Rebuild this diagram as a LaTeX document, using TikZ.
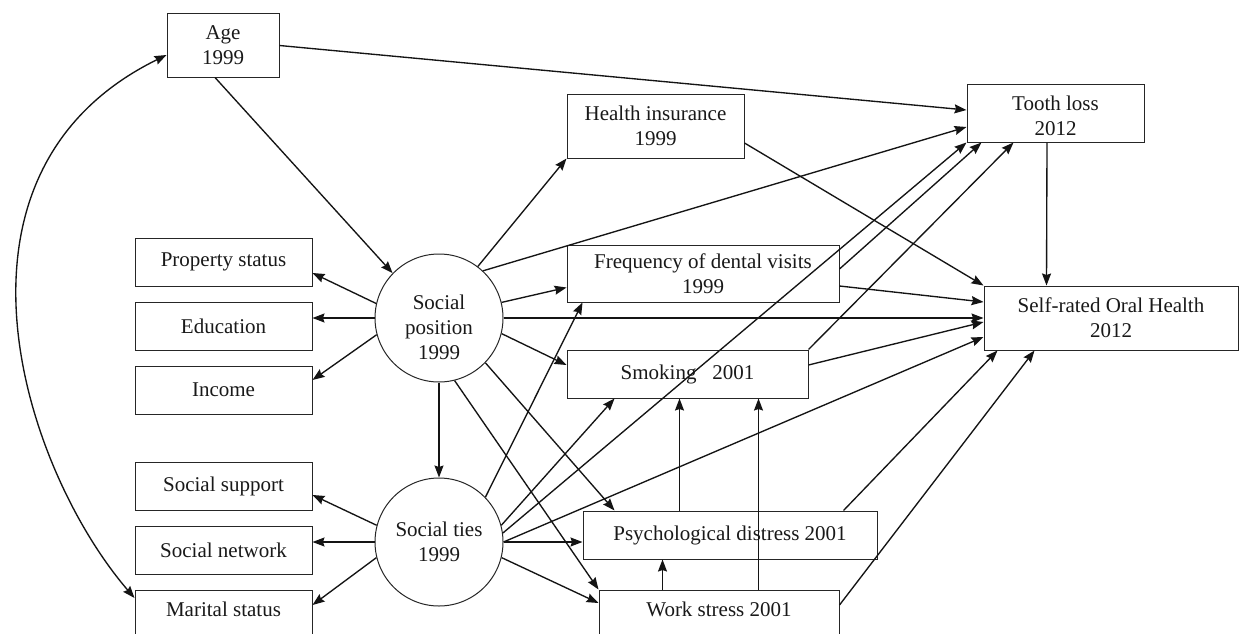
\documentclass[tikz,border=0pt]{standalone}
\usepackage{fontspec}
\setmainfont{Liberation Serif}
\usetikzlibrary{arrows.meta,calc}
\begin{document}
\begin{tikzpicture}[x=1pt,y=-1pt,
  box/.style={draw=black!85, line width=1pt, rectangle, inner sep=0pt, align=center,
    font=\fontsize{21}{25}\selectfont, text=black!90},
  circ/.style={draw=black!85, line width=1pt, circle, minimum size=128pt, inner sep=0pt,
    align=center, font=\fontsize{21}{25}\selectfont, text=black!90},
  tip/.tip={Stealth[length=12pt,width=9pt,inset=1.5pt]},
  arr/.style={-tip, line width=1.35pt, draw=black!92},
  darr/.style={tip-tip, line width=1.35pt, draw=black!92},
]
\clip (0,0) rectangle (1239,634);
\fill[white] (0,0) rectangle (1239,634);

% nodes
\node[box, minimum width=112pt, minimum height=63pt] (age) at (223,45.5) {Age\\1999};
\node[box, minimum width=177pt, minimum height=48pt] (prop) at (223.5,262) {Property status};
\node[box, minimum width=177pt, minimum height=48pt] (edu) at (223.5,326) {Education};
\node[box, minimum width=177pt, minimum height=48pt] (inc) at (223.5,390) {Income};
\node[box, minimum width=177pt, minimum height=48pt] (ssup) at (223.5,486) {Social support};
\node[box, minimum width=177pt, minimum height=48pt] (snet) at (223.5,550) {Social network};
\node[box, minimum width=177pt, minimum height=48pt, text depth=10pt] (mar) at (223.5,614) {Marital status};
\node[circ, text height=82pt, text depth=0pt] (sp) at (439,318) {Social\\position\\1999};
\node[circ] (st) at (439,542) {Social ties\\1999};
\node[box, minimum width=177pt, minimum height=64pt] (hi) at (655.5,126) {Health insurance\\1999};
\node[box, minimum width=272pt, minimum height=57pt] (fdv) at (703,273.5) {Frequency of dental visits\\1999};
\node[box, minimum width=241pt, minimum height=48pt] (smk) at (687.5,374) {Smoking\ \ \ 2001};
\node[box, minimum width=294pt, minimum height=48pt] (pd) at (730,535) {Psychological distress 2001};
\node[box, minimum width=240pt, minimum height=48pt, text depth=10pt] (ws) at (719,614) {Work stress 2001};
\node[box, minimum width=177pt, minimum height=58pt, text height=44pt, text depth=0pt] (tl) at (1055.5,113) {Tooth loss\\2012};
\node[box, minimum width=254pt, minimum height=64pt] (sroh) at (1111,318) {Self-rated Oral Health\\2012};

% Age
\draw[arr] (age.east) -- ($(tl.west)+(0,-3)$);
\draw[arr] ($(age.south)+(-8,0)$) -- (sp.136);
\draw[darr] ($(age.west)+(0,9.5)$) .. controls (-72,172) and (22,467) .. ($(mar.west)+(0,-16)$);

% Social position indicators
\draw[arr] (sp.167) -- ($(prop.east)+(0,11)$);
\draw[arr] (sp.west) -- ($(edu.east)+(0,-8)$);
\draw[arr] (sp.195) -- ($(inc.east)+(0,-10)$);
\draw[arr] (sp.south) -- (st.north);

% Social ties indicators
\draw[arr] (st.165) -- ($(ssup.east)+(0,9)$);
\draw[arr] (st.west) -- ($(snet.east)+(0,-8)$);
\draw[arr] (st.194) -- ($(mar.east)+(0,-9)$);

% Social position outcomes
\draw[arr] (sp.53) -- (hi.south west);
\draw[arr] (sp.47) -- ($(tl.west)+(0,14)$);
\draw[arr] (sp.14) -- ($(fdv.west)+(0,14)$);
\draw[arr] (sp.east) -- (sroh.west);
\draw[arr] (sp.346) -- ($(smk.west)+(0,-9)$);
\draw[arr] (sp.316) -- ($(pd.north west)+(32,0)$);
\draw[arr] (sp.284) -- (ws.north west);

% Social ties outcomes
\draw[arr] (st.44) -- ($(fdv.south west)+(16,0)$);
\draw[arr] (st.15) -- ($(smk.south west)+(48,0)$);
\draw[arr] (st.8) -- (tl.south west);
\draw[arr] (st.east) -- ($(sroh.west)+(0,19)$);
\draw[arr] (st.east) -- ($(pd.west)+(0,7)$);
\draw[arr] (st.346) -- ($(ws.west)+(0,-11)$);

% mediators
\draw[arr] ($(hi.east)+(0,17)$) -- (sroh.north west);
\draw[arr] ($(fdv.east)+(0,-4.5)$) -- ($(tl.south west)+(15,0)$);
\draw[arr] ($(fdv.east)+(0,12.5)$) -- ($(sroh.west)+(0,-16)$);
\draw[arr] (smk.north east) -- ($(tl.south west)+(47,0)$);
\draw[arr] ($(smk.east)+(0,-9)$) -- ($(sroh.west)+(0,4)$);
\draw[arr] ($(pd.north west)+(97,0)$) -- ($(smk.south west)+(113,0)$);
\draw[arr] ($(ws.north west)+(160,0)$) -- ($(smk.south west)+(192,0)$);
\draw[arr] ($(ws.north west)+(64,0)$) -- ($(pd.south west)+(80,0)$);
\draw[arr] ($(pd.north east)+(-34,0)$) -- ($(sroh.south west)+(14,0)$);
\draw[arr] ($(ws.east)+(0,-9)$) -- ($(sroh.south west)+(51,0)$);
\draw[arr] ($(tl.south)+(-8.5,0)$) -- ($(sroh.north west)+(63,0)$);
\end{tikzpicture}
\end{document}
